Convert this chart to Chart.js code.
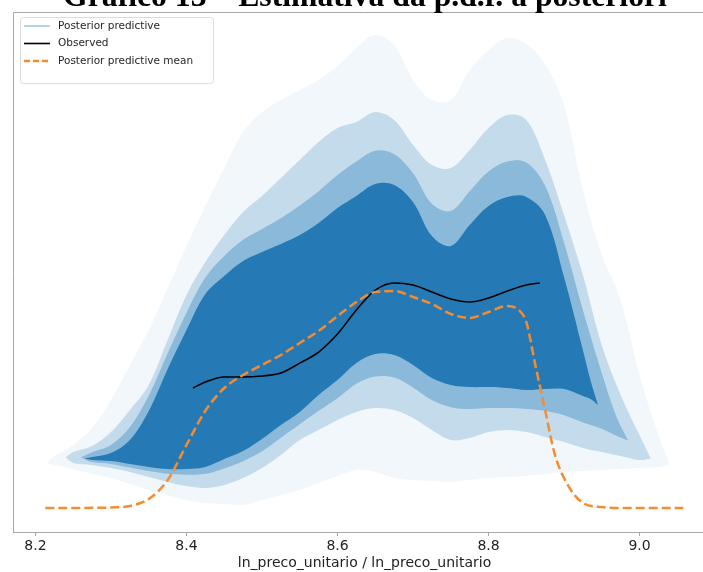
<!DOCTYPE html>
<html><head><meta charset="utf-8">
<script src="https://cdn.jsdelivr.net/npm/chart.js@4"></script>
<style>
html,body{margin:0;padding:0;overflow:hidden;background:#fff;width:703px;height:572px}
#wrap{position:absolute;left:0;top:0;width:720px;height:572px}
</style>
</head><body>
<div id="wrap"><canvas id="c" width="720" height="572"></canvas></div>
<script>
const titleText = 'Gráfico 13 – Estimativa da p.d.f. a posteriori';
const xLabel = 'ln_preco_unitario / ln_preco_unitario';
const tickVals = [8.2, 8.4, 8.6, 8.8, 9.0];
const legendLabels = ['Posterior predictive', 'Observed', 'Posterior predictive mean'];

// Posterior predictive spaghetti, summarised as nested envelopes
const outerX = [8.215, 8.225, 8.25, 8.275, 8.30, 8.325, 8.35, 8.375, 8.40, 8.425, 8.45, 8.475, 8.50, 8.525, 8.55, 8.575, 8.60, 8.625, 8.65, 8.675, 8.70, 8.725, 8.75, 8.775, 8.80, 8.825, 8.85, 8.875, 8.90, 8.925, 8.95, 8.975, 9.00, 9.025, 9.04];
const outerUpper = [0.5, 0.578, 0.7, 0.889, 1.2, 1.589, 1.978, 2.444, 2.911, 3.356, 3.778, 4.178, 4.4, 4.533, 4.644, 4.756, 4.911, 5.111, 5.256, 5.144, 4.756, 4.533, 4.533, 4.867, 5.089, 5.222, 5.156, 4.933, 4.478, 3.533, 2.811, 2.311, 1.478, 0.811, 0.48];
const outerLower = [0.5, 0.478, 0.433, 0.378, 0.333, 0.267, 0.2, 0.144, 0.089, 0.056, 0.044, 0.033, 0.089, 0.144, 0.2, 0.278, 0.356, 0.422, 0.4, 0.333, 0.311, 0.3, 0.289, 0.311, 0.333, 0.344, 0.356, 0.378, 0.4, 0.411, 0.422, 0.433, 0.444, 0.456, 0.48];

const midX = [8.24, 8.25, 8.275, 8.30, 8.325, 8.35, 8.375, 8.40, 8.425, 8.45, 8.475, 8.50, 8.525, 8.55, 8.575, 8.60, 8.625, 8.65, 8.675, 8.70, 8.725, 8.75, 8.775, 8.80, 8.825, 8.85, 8.875, 8.90, 8.925, 8.95, 8.975, 9.00, 9.015];
const midUpper = [0.56, 0.622, 0.689, 0.844, 1.089, 1.367, 1.867, 2.367, 2.733, 3.033, 3.289, 3.467, 3.667, 3.867, 4.067, 4.222, 4.289, 4.4, 4.311, 4.033, 3.811, 3.778, 3.978, 4.222, 4.367, 4.311, 3.867, 3.256, 2.589, 1.811, 1.256, 0.811, 0.55];
const midLower = [0.56, 0.5, 0.478, 0.444, 0.4, 0.344, 0.289, 0.244, 0.222, 0.256, 0.333, 0.444, 0.589, 0.756, 0.867, 0.978, 1.067, 1.111, 1.089, 1.0, 0.867, 0.756, 0.778, 0.844, 0.867, 0.844, 0.789, 0.733, 0.667, 0.622, 0.578, 0.533, 0.55];

const fringeX = [8.26, 8.275, 8.30, 8.325, 8.35, 8.375, 8.40, 8.425, 8.45, 8.475, 8.50, 8.525, 8.55, 8.575, 8.60, 8.625, 8.65, 8.675, 8.70, 8.725, 8.75, 8.775, 8.80, 8.825, 8.85, 8.875, 8.90, 8.925, 8.95, 8.97, 8.985];
const fringeUpper = [0.56, 0.62, 0.70, 0.90, 1.25, 1.72, 2.17, 2.56, 2.80, 2.98, 3.10, 3.22, 3.36, 3.52, 3.70, 3.85, 3.97, 3.93, 3.72, 3.38, 3.30, 3.52, 3.74, 3.85, 3.84, 3.58, 2.95, 2.20, 1.50, 1.0, 0.75];
const fringeLower = [0.56, 0.51, 0.49, 0.45, 0.41, 0.38, 0.37, 0.38, 0.44, 0.52, 0.63, 0.78, 0.93, 1.08, 1.22, 1.38, 1.46, 1.45, 1.34, 1.20, 1.12, 1.10, 1.11, 1.11, 1.10, 1.08, 1.03, 0.95, 0.88, 0.80, 0.75];

const coreX = [8.265, 8.275, 8.30, 8.325, 8.35, 8.375, 8.40, 8.425, 8.45, 8.475, 8.50, 8.525, 8.55, 8.575, 8.60, 8.625, 8.65, 8.675, 8.70, 8.725, 8.75, 8.775, 8.80, 8.825, 8.85, 8.875, 8.90, 8.925, 8.935, 8.945];
const coreUpper = [0.55, 0.567, 0.611, 0.756, 1.078, 1.544, 1.978, 2.378, 2.578, 2.744, 2.844, 2.933, 3.033, 3.167, 3.333, 3.467, 3.6, 3.589, 3.4, 3.022, 2.911, 3.144, 3.356, 3.456, 3.456, 3.256, 2.567, 1.756, 1.422, 1.144];
const coreLower = [0.55, 0.533, 0.522, 0.489, 0.456, 0.433, 0.433, 0.456, 0.544, 0.633, 0.767, 0.922, 1.067, 1.256, 1.422, 1.611, 1.711, 1.7, 1.589, 1.444, 1.367, 1.344, 1.344, 1.333, 1.311, 1.322, 1.322, 1.244, 1.211, 1.144];

// Observed KDE
const obsX = [8.4085, 8.425, 8.45, 8.475, 8.50, 8.525, 8.55, 8.575, 8.60, 8.625, 8.65, 8.675, 8.70, 8.725, 8.75, 8.775, 8.80, 8.825, 8.85, 8.868];
const obsY = [1.333, 1.40, 1.456, 1.456, 1.467, 1.50, 1.61, 1.733, 1.933, 2.20, 2.42, 2.50, 2.478, 2.40, 2.322, 2.289, 2.333, 2.411, 2.478, 2.50];

// Posterior predictive mean
const meanX = [8.213, 8.25, 8.275, 8.30, 8.325, 8.35, 8.375, 8.40, 8.425, 8.45, 8.475, 8.50, 8.525, 8.55, 8.575, 8.60, 8.625, 8.65, 8.675, 8.70, 8.725, 8.75, 8.775, 8.80, 8.825, 8.84, 8.85, 8.862, 8.875, 8.887, 8.90, 8.925, 8.95, 8.975, 9.00, 9.058];
const meanY = [0, 0, 0.002, 0.006, 0.022, 0.10, 0.31, 0.70, 1.08, 1.333, 1.478, 1.589, 1.70, 1.833, 1.967, 2.133, 2.289, 2.40, 2.411, 2.344, 2.267, 2.156, 2.111, 2.178, 2.244, 2.2, 2.067, 1.59, 1.089, 0.62, 0.333, 0.056, 0.011, 0, 0, 0];

const toPts = (xs, ys) => xs.map((x, i) => ({x: x, y: ys[i]}));
const blue = a => 'rgba(31,119,180,' + a + ')';
const band = (label, xs, ys, a, fill, order) => ({
  label: label, data: toPts(xs, ys), borderWidth: 0, borderColor: 'rgba(0,0,0,0)',
  pointRadius: 0, backgroundColor: blue(a), fill: fill, tension: 0.35, order: order
});

const framePlugin = {
  id: 'frame',
  afterDatasetsDraw(chart) {
    const {ctx, chartArea: a} = chart;
    ctx.save();
    ctx.strokeStyle = '#a8a8a8';
    ctx.lineWidth = 1;
    ctx.beginPath();
    ctx.moveTo(a.left + 0.5, a.bottom);
    ctx.lineTo(a.left + 0.5, a.top + 0.5);
    ctx.lineTo(a.right, a.top + 0.5);
    ctx.stroke();
    ctx.restore();
  }
};

const titlePlugin = {
  id: 'cutTitle',
  afterDraw(chart) {
    const ctx = chart.ctx;
    ctx.save();
    let size = 25;
    ctx.font = 'bold ' + size + 'px "Liberation Serif", "Times New Roman", serif';
    const w = ctx.measureText(titleText).width;
    size = size * 604 / w;
    ctx.font = 'bold ' + size + 'px "Liberation Serif", "Times New Roman", serif';
    ctx.fillStyle = '#000';
    ctx.textAlign = 'center';
    ctx.textBaseline = 'alphabetic';
    ctx.fillText(titleText, 365, 6);
    ctx.restore();
  }
};

const legendPlugin = {
  id: 'boxLegend',
  afterDraw(chart) {
    const ctx = chart.ctx;
    ctx.save();
    const x = 20.5, y = 17.5, w = 193, h = 66, r = 3;
    ctx.beginPath();
    ctx.moveTo(x + r, y); ctx.lineTo(x + w - r, y); ctx.quadraticCurveTo(x + w, y, x + w, y + r);
    ctx.lineTo(x + w, y + h - r); ctx.quadraticCurveTo(x + w, y + h, x + w - r, y + h);
    ctx.lineTo(x + r, y + h); ctx.quadraticCurveTo(x, y + h, x, y + h - r);
    ctx.lineTo(x, y + r); ctx.quadraticCurveTo(x, y, x + r, y);
    ctx.closePath();
    ctx.fillStyle = 'rgba(255,255,255,0.8)';
    ctx.fill();
    ctx.strokeStyle = '#dcdcdc';
    ctx.lineWidth = 1;
    ctx.stroke();
    const rows = [26, 43.5, 61];
    const styles = [
      {c: 'rgba(31,119,180,0.55)', w: 1.2, d: []},
      {c: '#000', w: 1.6, d: []},
      {c: '#f78b2d', w: 2.5, d: [6, 3]}
    ];
    rows.forEach((ry, i) => {
      ctx.beginPath();
      ctx.strokeStyle = styles[i].c;
      ctx.lineWidth = styles[i].w;
      ctx.setLineDash(styles[i].d);
      ctx.moveTo(24, ry); ctx.lineTo(50, ry);
      ctx.stroke();
      ctx.setLineDash([]);
      ctx.fillStyle = '#262626';
      ctx.font = '10.5px "DejaVu Sans", sans-serif';
      ctx.textAlign = 'left';
      ctx.textBaseline = 'middle';
      ctx.fillText(legendLabels[i], 58, ry);
    });
    ctx.restore();
  }
};

new Chart(document.getElementById('c'), {
  type: 'line',
  data: {
    datasets: [
      band('outerU', outerX, outerUpper, 0.06, '+1', 9),
      band('outerL', outerX, outerLower, 0, false, 9),
      band('midU', midX, midUpper, 0.22, '+1', 7),
      band('midL', midX, midLower, 0, false, 7),
      band('fringeU', fringeX, fringeUpper, 0.35, '+1', 6),
      band('fringeL', fringeX, fringeLower, 0, false, 6),
      band('coreU', coreX, coreUpper, 0.94, '+1', 4),
      band('coreL', coreX, coreLower, 0, false, 4),
      {label: legendLabels[1], data: toPts(obsX, obsY), borderColor: '#000', borderWidth: 1.6,
       pointRadius: 0, fill: false, cubicInterpolationMode: 'monotone', order: 1},
      {label: legendLabels[2], data: toPts(meanX, meanY), borderColor: '#f78b2d', borderWidth: 2.5,
       borderDash: [9, 4], pointRadius: 0, fill: false, cubicInterpolationMode: 'monotone', order: 0}
    ]
  },
  options: {
    responsive: false,
    animation: false,
    devicePixelRatio: 1,
    layout: {padding: {left: 13, top: 12, right: 4, bottom: 0}},
    plugins: {legend: {display: false}, tooltip: {enabled: false}, title: {display: false}},
    scales: {
      x: {
        type: 'linear', min: 8.1702, max: 9.1013,
        afterBuildTicks: s => { s.ticks = tickVals.map(v => ({value: v})); },
        afterFit: s => { s.height = 40; },
        ticks: {callback: v => Number(v).toFixed(1), font: {family: 'DejaVu Sans', size: 14},
                color: '#222', padding: 2, maxRotation: 0, autoSkip: false},
        grid: {drawOnChartArea: false, drawTicks: true, tickLength: 4, color: '#a8a8a8'},
        border: {display: true, color: '#a8a8a8'},
        title: {display: true, text: xLabel, font: {family: 'DejaVu Sans', size: 14},
                color: '#222', padding: {top: 0, bottom: 0}}
      },
      y: {display: false, min: -0.2667, max: 5.511}
    }
  },
  plugins: [framePlugin, titlePlugin, legendPlugin]
});
</script>
</body></html>
